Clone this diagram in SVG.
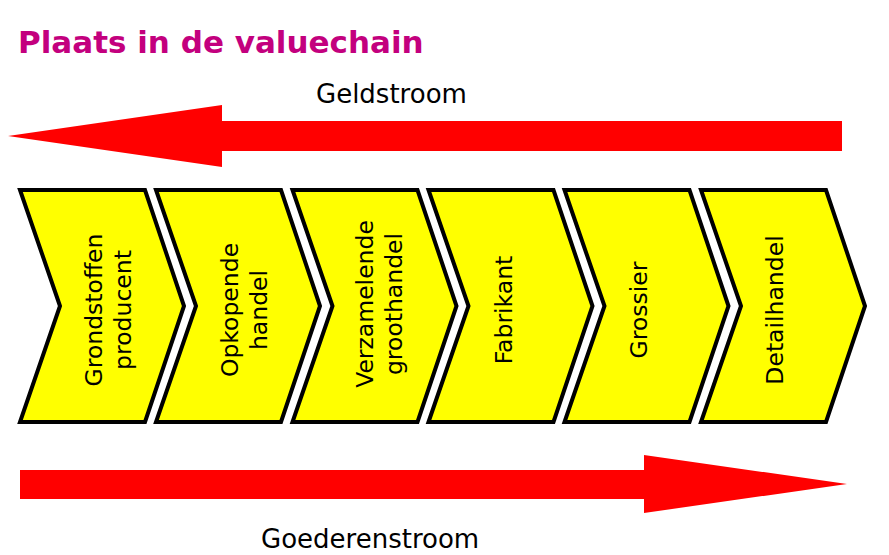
<svg xmlns="http://www.w3.org/2000/svg" width="889" height="555" viewBox="0 0 889 555">
<defs>
<style>
.title{font-family:"DejaVu Sans","Verdana",sans-serif;font-weight:bold;font-size:31px;fill:#C3007E}
.lbl{font-family:"DejaVu Sans","Verdana",sans-serif;font-size:26px;fill:#000}
.chev{fill:#FFFF00;stroke:#000;stroke-width:4;stroke-linejoin:miter}
.ct{font-family:"DejaVu Sans","Verdana",sans-serif;font-size:23.5px;fill:#000;text-anchor:middle}
.flow{fill:#FF0000}
</style>
<path id="chev" d="M0,190 L125,190 L164,306 L125,422 L0,422 L40,306 Z"/>
</defs>
<rect width="889" height="555" fill="#fff"/>
<text class="title" x="18" y="53">Plaats in de valuechain</text>
<g id="connectors">
<g id="geldstroom">
<polygon class="flow" points="8,136 222,105 222,121 842,121 842,151 222,151 222,167"/>
<text class="lbl" x="316" y="103">Geldstroom</text>
</g>
<g id="goederenstroom">
<polygon class="flow" points="20,470 644,470 644,455 847,484 644,513 644,499 20,499"/>
<text class="lbl" x="261" y="548">Goederenstroom</text>
</g>
</g>
<g id="n1"><use href="#chev" class="chev" x="20"/>
<text class="ct" transform="translate(102,310) rotate(-90)">Grondstoffen</text>
<text class="ct" transform="translate(131,310) rotate(-90)">producent</text></g>
<g id="n2"><use href="#chev" class="chev" x="156"/>
<text class="ct" transform="translate(238,310) rotate(-90)">Opkopende</text>
<text class="ct" transform="translate(267,310) rotate(-90)">handel</text></g>
<g id="n3"><use href="#chev" class="chev" x="292.5"/>
<text class="ct" transform="translate(373,304) rotate(-90)">Verzamelende</text>
<text class="ct" transform="translate(402,304) rotate(-90)">groothandel</text></g>
<g id="n4"><use href="#chev" class="chev" x="428.5"/>
<text class="ct" transform="translate(512,310) rotate(-90)">Fabrikant</text></g>
<g id="n5"><use href="#chev" class="chev" x="564.5"/>
<text class="ct" transform="translate(647,310) rotate(-90)">Grossier</text></g>
<g id="n6"><use href="#chev" class="chev" x="701"/>
<text class="ct" transform="translate(783,310) rotate(-90)">Detailhandel</text></g>
</svg>
